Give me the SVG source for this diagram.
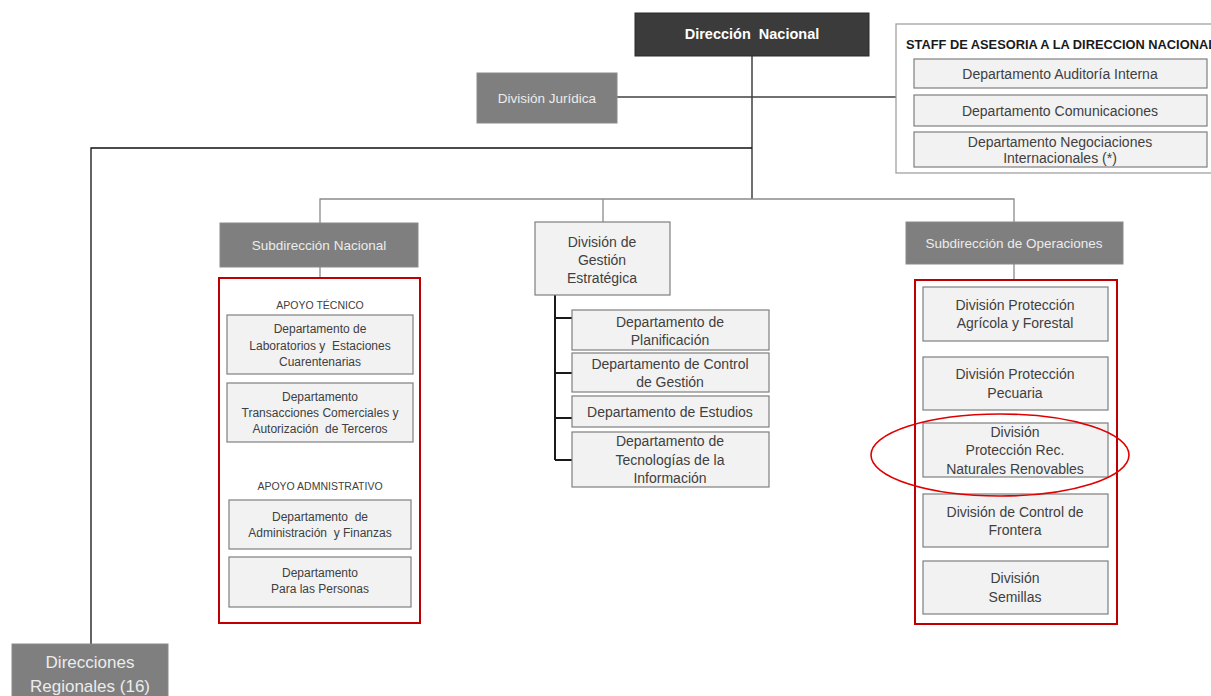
<svg xmlns="http://www.w3.org/2000/svg" width="1211" height="696" viewBox="0 0 1211 696">
<style>
text{font-family:"Liberation Sans",Arial,sans-serif;text-anchor:middle}
.dark{fill:#3b3b3b;stroke:#2a2a2a;stroke-width:1}
.gray{fill:#7f7f7f;stroke:#8a8a8a;stroke-width:1}
.light{fill:#f2f2f2;stroke:#7f7f7f;stroke-width:1.2}
.red{fill:none;stroke:#c00000;stroke-width:2}
.wt{fill:#ffffff;font-weight:bold}
.lt{fill:#ececec}
.dt{fill:#404040}
.m{font-size:14px}
.s{font-size:12px}
.ln{fill:none;stroke:#404040;stroke-width:1.5}
.thin{fill:none;stroke:#8a8a8a;stroke-width:1.3}
.blk{fill:none;stroke:#1a1a1a;stroke-width:2}
</style>
<rect width="1211" height="696" fill="#ffffff"/>
<g id="connectors">
<polyline class="ln" points="752,56 752,199"/>
<polyline class="ln" points="617,97 896,97"/>
<polyline fill="none" stroke="#111" stroke-width="1.3" points="752,148 91,148 91,644"/>
<polyline class="thin" points="320,223 320,199 1014,199 1014,222"/>
<polyline class="thin" points="603,199 603,222"/>
<polyline class="thin" points="320,267 320,278"/>
<polyline class="thin" points="1014,264 1014,280"/>
<polyline class="blk" points="555,295 555,460"/>
<polyline class="blk" points="555,318 572,318"/>
<polyline class="blk" points="555,373 572,373"/>
<polyline class="blk" points="555,418 572,418"/>
<polyline class="blk" points="555,460 572,460"/>
</g>
<g id="direccion-nacional">
<rect class="dark" x="635" y="13" width="234" height="43"/>
<text class="wt" x="752" y="39" font-size="14.5" xml:space="preserve">Dirección  Nacional</text>
</g>
<g id="division-juridica">
<rect class="gray" x="477" y="73" width="140" height="50"/>
<text class="lt" x="547" y="103" font-size="13.5">División Jurídica</text>
</g>
<g id="staff">
<rect x="896" y="24" width="320" height="149" fill="#ffffff" stroke="#9a9a9a" stroke-width="1.2"/>
<text x="906" y="49" font-size="12" font-weight="bold" fill="#1a1a1a" style="text-anchor:start" textLength="310" lengthAdjust="spacingAndGlyphs">STAFF DE ASESORIA A LA DIRECCION NACIONAL</text>
</g>
<g id="auditoria">
<rect class="light" x="914" y="59" width="293" height="29"/>
<text class="dt m" x="1060" y="79">Departamento Auditoría Interna</text>
</g>
<g id="comunicaciones">
<rect class="light" x="914" y="95" width="293" height="31"/>
<text class="dt m" x="1060" y="116">Departamento Comunicaciones</text>
</g>
<g id="negociaciones">
<rect class="light" x="914" y="132" width="293" height="35"/>
<text class="dt m" x="1060" y="147">Departamento Negociaciones</text>
<text class="dt m" x="1060" y="163">Internacionales (*)</text>
</g>
<g id="subdireccion-nacional">
<rect class="gray" x="220" y="223" width="198" height="44"/>
<text class="lt" x="319" y="250" font-size="13.5">Subdirección Nacional</text>
</g>
<g id="grupo-subdireccion-nacional">
<rect class="red" x="219" y="278" width="201" height="345"/>
<text class="dt" x="320" y="309" font-size="10.5">APOYO TÉCNICO</text>
<text class="dt" x="320" y="490" font-size="10.5">APOYO ADMNISTRATIVO</text>
</g>
<g id="laboratorios">
<rect class="light" x="227" y="315" width="186" height="59"/>
<text class="dt s" x="320" y="333">Departamento de</text>
<text class="dt s" x="320" y="350" xml:space="preserve">Laboratorios y  Estaciones</text>
<text class="dt s" x="320" y="366">Cuarentenarias</text>
</g>
<g id="transacciones">
<rect class="light" x="227" y="383" width="186" height="59"/>
<text class="dt s" x="320" y="401">Departamento</text>
<text class="dt s" x="320" y="417">Transacciones Comerciales y</text>
<text class="dt s" x="320" y="433" xml:space="preserve">Autorización  de Terceros</text>
</g>
<g id="administracion">
<rect class="light" x="229" y="500" width="182" height="49"/>
<text class="dt s" x="320" y="521" xml:space="preserve">Departamento  de</text>
<text class="dt s" x="320" y="537" xml:space="preserve">Administración  y Finanzas</text>
</g>
<g id="personas">
<rect class="light" x="229" y="557" width="182" height="50"/>
<text class="dt s" x="320" y="577">Departamento</text>
<text class="dt s" x="320" y="593">Para las Personas</text>
</g>
<g id="gestion-estrategica">
<rect class="light" x="535" y="222" width="135" height="73"/>
<text class="dt m" x="602" y="247">División de</text>
<text class="dt m" x="602" y="265">Gestión</text>
<text class="dt m" x="602" y="283">Estratégica</text>
</g>
<g id="planificacion">
<rect class="light" x="572" y="310" width="197" height="40"/>
<text class="dt m" x="670" y="327">Departamento de</text>
<text class="dt m" x="670" y="345">Planificación</text>
</g>
<g id="control-gestion">
<rect class="light" x="572" y="353" width="197" height="39"/>
<text class="dt m" x="670" y="369">Departamento de Control</text>
<text class="dt m" x="670" y="387">de Gestión</text>
</g>
<g id="estudios">
<rect class="light" x="572" y="396" width="197" height="31"/>
<text class="dt m" x="670" y="417">Departamento de Estudios</text>
</g>
<g id="tecnologias">
<rect class="light" x="572" y="432" width="197" height="55"/>
<text class="dt m" x="670" y="446">Departamento de</text>
<text class="dt m" x="670" y="465">Tecnologías de la</text>
<text class="dt m" x="670" y="483">Información</text>
</g>
<g id="subdireccion-operaciones">
<rect class="gray" x="906" y="222" width="217" height="42"/>
<text class="lt" x="1014" y="248" font-size="13.5">Subdirección de Operaciones</text>
</g>
<g id="grupo-operaciones">
<rect class="red" x="915" y="280" width="202" height="344"/>
</g>
<g id="agricola">
<rect class="light" x="923" y="287" width="185" height="54"/>
<text class="dt m" x="1015" y="310">División Protección</text>
<text class="dt m" x="1015" y="328">Agrícola y Forestal</text>
</g>
<g id="pecuaria">
<rect class="light" x="923" y="357" width="185" height="53"/>
<text class="dt m" x="1015" y="379">División Protección</text>
<text class="dt m" x="1015" y="398">Pecuaria</text>
</g>
<g id="recursos-naturales">
<rect class="light" x="923" y="423" width="185" height="54"/>
<text class="dt m" x="1015" y="437">División</text>
<text class="dt m" x="1015" y="455">Protección Rec.</text>
<text class="dt m" x="1015" y="474">Naturales Renovables</text>
</g>
<g id="frontera">
<rect class="light" x="923" y="494" width="185" height="53"/>
<text class="dt m" x="1015" y="517">División de Control de</text>
<text class="dt m" x="1015" y="535">Frontera</text>
</g>
<g id="semillas">
<rect class="light" x="923" y="561" width="185" height="53"/>
<text class="dt m" x="1015" y="583">División</text>
<text class="dt m" x="1015" y="602">Semillas</text>
</g>
<g id="resaltado">
<ellipse cx="1000" cy="455" rx="129" ry="41" fill="none" stroke="#e00000" stroke-width="1.6"/>
</g>
<g id="direcciones-regionales">
<rect class="gray" x="12" y="644" width="156" height="60"/>
<text class="lt" x="90" y="668" font-size="17">Direcciones</text>
<text class="lt" x="90" y="692" font-size="17">Regionales (16)</text>
</g>
</svg>
